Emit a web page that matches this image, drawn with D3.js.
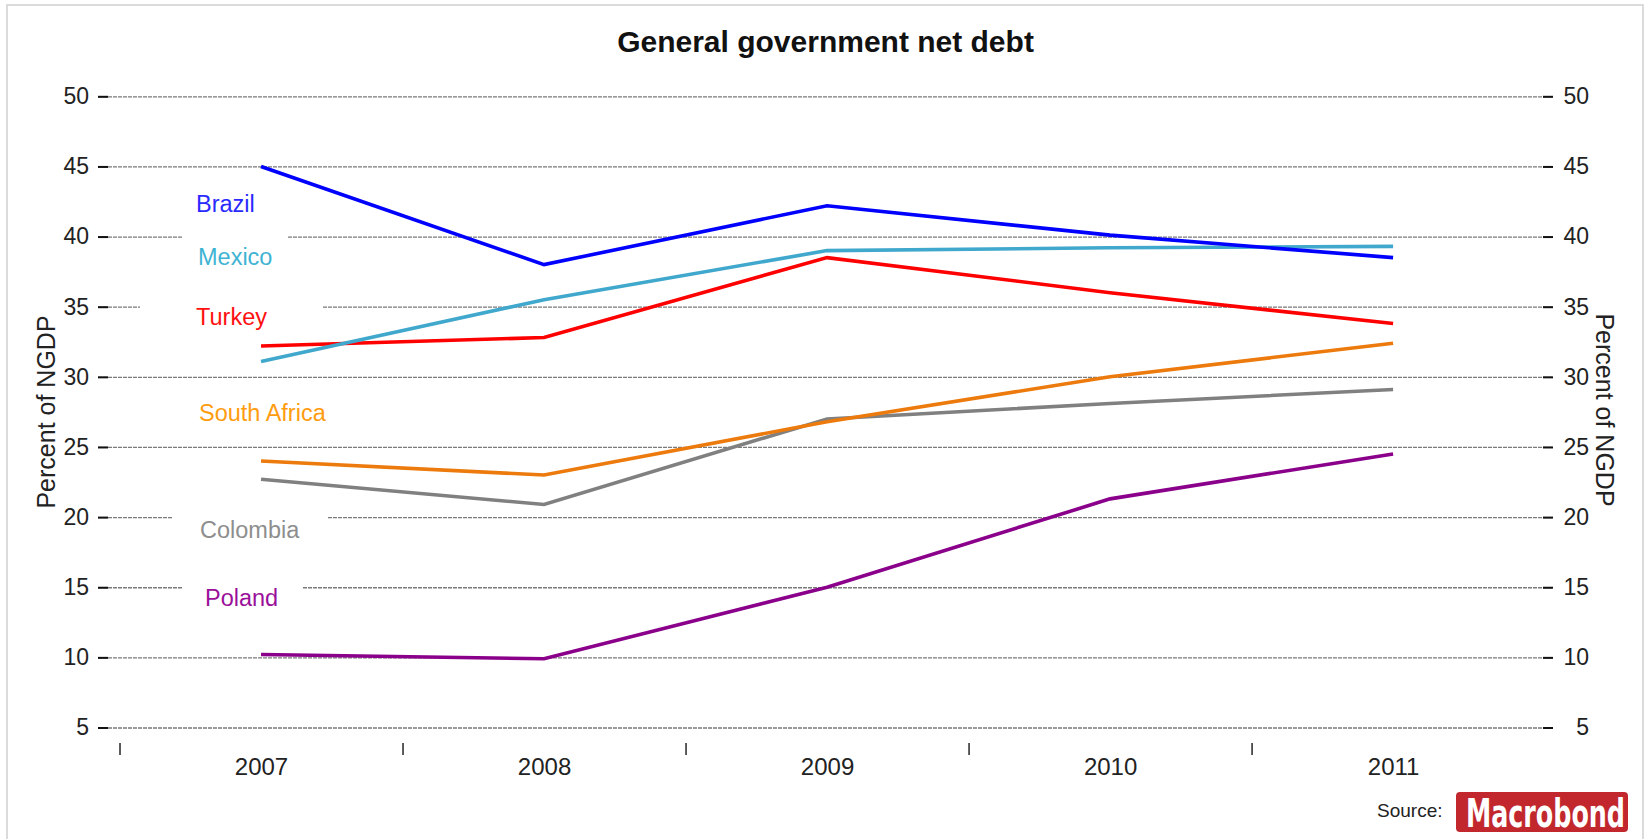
<!DOCTYPE html>
<html>
<head>
<meta charset="utf-8">
<script src="https://cdn.jsdelivr.net/npm/d3@7"></script>
<style>
  html, body { margin: 0; padding: 0; background: #fff; }
  svg { display: block; font-family: "Liberation Sans", Arial, Helvetica, sans-serif; }
</style>
</head>
<body>
<svg id="chart" width="1647" height="839"></svg>
<script>
// ---- DATA ----
const years = [2007, 2008, 2009, 2010, 2011];
const brazil      = [45.0, 38.0, 42.2, 40.1, 38.5];
const mexico      = [31.1, 35.5, 39.0, 39.2, 39.3];
const turkey      = [32.2, 32.8, 38.5, 36.0, 33.8];
const southAfrica = [24.0, 23.0, 26.8, 30.0, 32.4];
const colombia    = [22.7, 20.9, 27.0, 28.1, 29.1];
const poland      = [10.2,  9.9, 15.0, 21.3, 24.5];
const yTicks = [5, 10, 15, 20, 25, 30, 35, 40, 45, 50];
const yearBoundaries = [2006.5, 2007.5, 2008.5, 2009.5, 2010.5];
const seriesNames = ["Turkey", "Mexico", "Brazil", "Poland", "Colombia", "South Africa"];
const titleText = "General government net debt";
const axisTitle = "Percent of NGDP";

// ---- STYLE / LAYOUT ----
const seriesStyle = {
  "Brazil":       { line: "#0000ff", label: "#2a2aff" },
  "Mexico":       { line: "#40a8cc", label: "#3fb3d3" },
  "Turkey":       { line: "#ff0000", label: "#ff1010" },
  "South Africa": { line: "#ec7a0c", label: "#ff9c10" },
  "Colombia":     { line: "#808080", label: "#8e8e8e" },
  "Poland":       { line: "#8a008a", label: "#9a109a" }
};
const labelLayout = {
  "Brazil":       { x: 196, y: 204, b0: 183, b1: 270 },
  "Mexico":       { x: 198, y: 257, b0: 183, b1: 287 },
  "Turkey":       { x: 196, y: 317, b0: 140, b1: 322 },
  "South Africa": { x: 199, y: 413, b0: 185, b1: 342 },
  "Colombia":     { x: 200, y: 530, b0: 173, b1: 328 },
  "Poland":       { x: 205, y: 598, b0: 182, b1: 302 }
};
const values = {
  "Brazil": brazil, "Mexico": mexico, "Turkey": turkey,
  "South Africa": southAfrica, "Colombia": colombia, "Poland": poland
};

const plotL = 98, plotR = 1553, plotT = 96.3, plotB = 727.5;
const svg = d3.select("#chart");

// page border
svg.append("rect").attr("x", 7).attr("y", 5).attr("width", 1636).attr("height", 850)
  .attr("fill", "none").attr("stroke", "#cfcfcf").attr("stroke-width", 1.5);

const x = d3.scaleLinear().domain([2006.424, 2011.565]).range([plotL, plotR]);
const y = d3.scaleLinear().domain([5, 50]).range([plotB, plotT]);

// title
svg.append("text").attr("x", 825.5).attr("y", 52).attr("text-anchor", "middle")
  .attr("font-size", 30).attr("font-weight", "bold").attr("fill", "#111").text(titleText);

// gridlines
const grid = svg.append("g").attr("transform", `translate(${plotL},0)`)
  .call(d3.axisRight(y).tickValues(yTicks).tickSize(plotR - plotL).tickFormat(""));
grid.select(".domain").remove();
grid.selectAll(".tick line").attr("stroke", "#7a7a7a").attr("stroke-width", 1.3)
  .attr("stroke-dasharray", "4,1");

// left axis
const leftAx = svg.append("g").attr("transform", `translate(${plotL + 10},0)`)
  .call(d3.axisLeft(y).tickValues(yTicks).tickSize(10).tickPadding(9));
leftAx.select(".domain").remove();
leftAx.selectAll(".tick line").attr("stroke", "#111").attr("stroke-width", 2);
leftAx.selectAll(".tick text").attr("font-size", 23).attr("fill", "#222")
  .attr("font-family", "Liberation Sans, Arial, sans-serif");

// right axis
const rightAx = svg.append("g").attr("transform", `translate(${plotR - 10},0)`)
  .call(d3.axisRight(y).tickValues(yTicks).tickSize(10));
rightAx.select(".domain").remove();
rightAx.selectAll(".tick line").attr("stroke", "#111").attr("stroke-width", 2);
rightAx.selectAll(".tick text").attr("font-size", 23).attr("fill", "#222")
  .attr("font-family", "Liberation Sans, Arial, sans-serif")
  .attr("text-anchor", "end").attr("x", 1589 - (plotR - 10));

// bottom tick marks at year boundaries
const botTicks = svg.append("g").attr("transform", `translate(0,743)`)
  .call(d3.axisBottom(x).tickValues(yearBoundaries).tickSize(12).tickFormat(""));
botTicks.select(".domain").remove();
botTicks.selectAll(".tick line").attr("stroke", "#333").attr("stroke-width", 1.6);

// year labels
const botLabels = svg.append("g").attr("transform", `translate(0,758)`)
  .call(d3.axisBottom(x).tickValues(years).tickSize(0).tickPadding(0).tickFormat(d3.format("d")));
botLabels.select(".domain").remove();
botLabels.selectAll(".tick text").attr("font-size", 24).attr("fill", "#222")
  .attr("font-family", "Liberation Sans, Arial, sans-serif");

// axis titles
svg.append("text").attr("transform", "translate(55,412) rotate(-90)")
  .attr("text-anchor", "middle").attr("font-size", 25).attr("fill", "#222").text(axisTitle);
svg.append("text").attr("transform", "translate(1596,410) rotate(90)")
  .attr("text-anchor", "middle").attr("font-size", 25).attr("fill", "#222").text(axisTitle);

// label boxes + labels
const labG = svg.append("g");
seriesNames.forEach(name => {
  const L = labelLayout[name];
  labG.append("rect").attr("x", L.b0).attr("y", L.y - 24)
    .attr("width", L.b1 - L.b0).attr("height", 38).attr("fill", "#fff");
  labG.append("text").attr("x", L.x).attr("y", L.y).attr("dy", "0.36em")
    .attr("font-size", 23.5).attr("fill", seriesStyle[name].label).text(name);
});

// lines
const lineGen = d3.line().x((d, i) => x(years[i])).y(d => y(d));
const drawOrder = ["Poland", "Colombia", "South Africa", "Turkey", "Mexico", "Brazil"];
drawOrder.forEach(name => {
  svg.append("path").datum(values[name]).attr("d", lineGen)
    .attr("fill", "none").attr("stroke", seriesStyle[name].line)
    .attr("stroke-width", 3.6).attr("stroke-linejoin", "miter").attr("stroke-linecap", "butt");
});

// source
svg.append("text").attr("x", 1377).attr("y", 817).attr("font-size", 19).attr("fill", "#222").text("Source:");
svg.append("rect").attr("x", 1456).attr("y", 792).attr("width", 172).attr("height", 40)
  .attr("rx", 4).attr("fill", "#c1272d");
svg.append("text").attr("transform", "translate(1466,827) scale(1,1.35)")
  .attr("font-family", "Liberation Sans Narrow, DejaVu Sans Condensed, Arial Narrow, sans-serif")
  .attr("font-weight", "bold").attr("font-size", 29).attr("fill", "#fff")
  .attr("textLength", 159).attr("lengthAdjust", "spacingAndGlyphs")
  .text("Macrobond");
</script>
</body>
</html>
